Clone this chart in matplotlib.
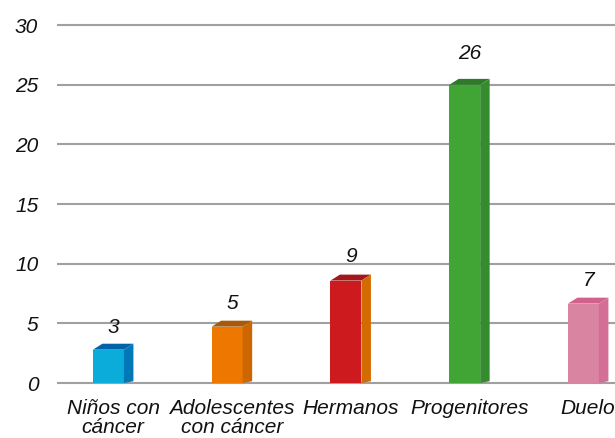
import numpy as np
import matplotlib.pyplot as plt
from matplotlib.patches import Polygon

kategoriler = ['Niños con\ncáncer', 'Adolescentes\ncon cáncer', 'Hermanos', 'Progenitores', 'Duelo']
degerler = [3, 5, 9, 26, 7]
on_renk = ['#0BACD9', '#EE7700', '#CC1A1F', '#40A535', '#D985A2']
yan_renk = ['#0077B6', '#CC6600', '#D46B00', '#358C2E', '#D46E96']
ust_renk = ['#0062A8', '#A85A0A', '#A3171B', '#2F7A2A', '#D4608E']
y_ticks = [0, 5, 10, 15, 20, 25, 30]

plt.rcParams['font.family'] = ['Liberation Sans', 'DejaVu Sans']

fig = plt.figure(figsize=(6.15, 4.38), dpi=100)
ax = fig.add_axes([57 / 615, 0.1119, 1 - 57 / 615, 0.8445])

x = np.arange(len(degerler))
gen = 0.261   # on yuz genisligi
dx = 0.08     # derinlik (yatay)
dy = 0.5      # derinlik (dikey)
# 3B perspektif: on yuz biraz kisa gorunuyor
on_yuk = np.array(degerler) * 0.965 - 0.1

ax.bar(x, on_yuk, width=gen, color=on_renk, zorder=3, linewidth=0)
for i in range(len(degerler)):
    x0 = x[i] - gen / 2
    x1 = x[i] + gen / 2
    h = on_yuk[i]
    ust = Polygon([(x0, h), (x1, h), (x1 + dx, h + dy), (x0 + dx, h + dy)],
                  closed=True, facecolor=ust_renk[i], edgecolor='none', zorder=3)
    yan = Polygon([(x1, 0), (x1 + dx, dy * 0.3), (x1 + dx, h + dy), (x1, h)],
                  closed=True, facecolor=yan_renk[i], edgecolor='none', zorder=3)
    ax.add_patch(ust)
    ax.add_patch(yan)
    ax.annotate(str(degerler[i]), xy=(x[i] + dx / 2, degerler[i]), xytext=(0, 14),
                textcoords='offset points', ha='center', va='center',
                fontsize=15, fontstyle='italic', color='#111111')

ax.set_xlim(-0.433, 4.266)
ax.set_ylim(-0.5, 30.5)
ax.set_yticks(y_ticks)
ax.set_yticklabels([str(t) for t in y_ticks], fontsize=15, fontstyle='italic', color='#111111')
ax.set_xticks(x + dx / 2)
ax.set_xticklabels(kategoriler, fontsize=15, fontstyle='italic', color='#111111', linespacing=1.05)
ax.tick_params(axis='y', length=0, pad=13.5)
ax.tick_params(axis='x', length=0, pad=7)
for t in ax.get_yticklabels():
    t.set_horizontalalignment('right')

ax.grid(axis='y', color='#A0A0A0', linewidth=1.5, zorder=0)
ax.set_axisbelow(True)
for s in ax.spines.values():
    s.set_visible(False)

plt.savefig('out.png', dpi=100)
